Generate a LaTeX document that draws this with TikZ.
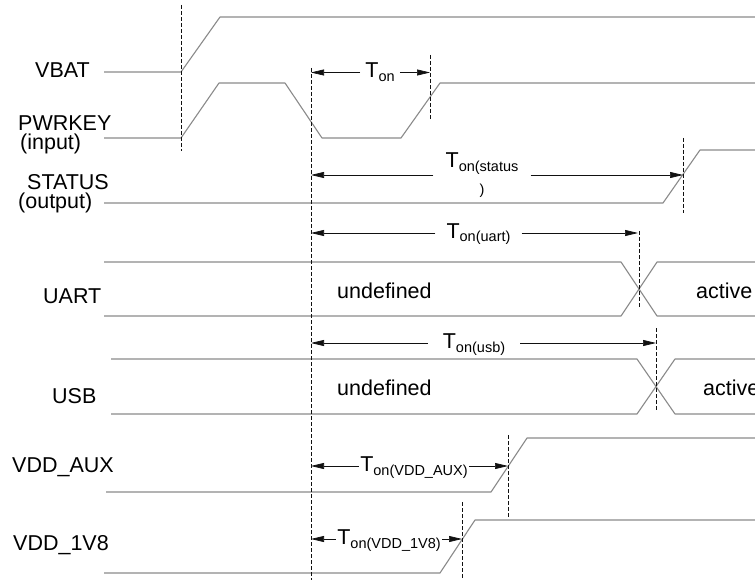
\documentclass[tikz,border=0pt]{standalone}
\usepackage{fontspec}
\setmainfont{Liberation Sans}
\usetikzlibrary{arrows.meta}
\definecolor{wire}{HTML}{8A8A8A}
\definecolor{ink}{HTML}{111111}
\newcommand\subfont{\fontsize{14.5}{16}\selectfont}
\newcommand\Ton[1]{T\raisebox{-3.5pt}{\subfont #1}}
\tikzset{
  wave/.style={draw=wire,line width=1.1pt,line join=round},
  guide/.style={draw=ink,dash pattern=on 4pt off 2pt,line width=0.8pt},
  arr/.style={-{Triangle[length=13pt,width=6pt]},line width=0.7pt,color=ink},
  sig/.style={font=\fontsize{21.5}{25}\selectfont,inner sep=0pt,anchor=base west},
  tlbl/.style={font=\fontsize{21.5}{25}\selectfont,inner ysep=0pt,anchor=base}}

\begin{document}
\begin{tikzpicture}[x=1pt,y=-1pt]
\useasboundingbox (0,0) rectangle (755,580);
% signal names
\node[sig] (vbat) at (35,78) {VBAT};
\node[sig] (pwrkey) at (18,131) {PWRKEY};
\node[sig] (pwrkey-io) at (20,150) {(input)};
\node[sig] (status) at (27,190) {STATUS};
\node[sig] (status-io) at (18,209) {(output)};
\node[sig] (uart) at (43,303) {UART};
\node[sig] (usb) at (52,403) {USB};
\node[sig] (vddaux) at (12,472) {VDD\_AUX};
\node[sig] (vdd1v8) at (13,550) {VDD\_1V8};
% waveforms
\draw[wave] (104,72) -- (181,72) -- (220,17) -- (755,17);
\draw[wave] (104,138) -- (181,138) -- (219,83) -- (285,83) -- (322,138) -- (401,138) -- (440,83) -- (755,83);
\draw[wave] (104,203) -- (663,203) -- (700,150) -- (755,150);
\draw[wave] (104,262) -- (621,262) -- (657,316) -- (755,316);
\draw[wave] (104,316) -- (621,316) -- (657,262) -- (755,262);
\draw[wave] (111,359) -- (637,359) -- (675,414) -- (755,414);
\draw[wave] (111,414) -- (637,414) -- (675,359) -- (755,359);
\draw[wave] (106,492) -- (491,492) -- (527,438) -- (755,438);
\draw[wave] (104,573) -- (440,573) -- (475,520) -- (755,520);
% bus states
\node[sig] (uart-x) at (337,298) {undefined};
\node[sig] (uart-ok) at (696,298) {active};
\node[sig] (usb-x) at (337,395) {undefined};
\node[sig] (usb-ok) at (703,395) {active};
% guides
\draw[guide] (181,5) -- (181,151);
\draw[guide] (311,68) -- (311,580);
\draw[guide] (430,55) -- (430,120);
\draw[guide] (683,138) -- (683,213);
\draw[guide] (639,231) -- (639,307);
\draw[guide] (656,328) -- (656,410);
\draw[guide] (508,435) -- (508,517);
\draw[guide] (462,502) -- (462,580);
% timing arrows
\coordinate (ton-l) at (311,72.5); \coordinate (ton-r) at (430,72.5);
\coordinate (tst-l) at (311,175); \coordinate (tst-r) at (683,175);
\coordinate (tua-l) at (311,233); \coordinate (tua-r) at (638,233);
\coordinate (tus-l) at (311,343); \coordinate (tus-r) at (656,343);
\coordinate (tax-l) at (311,466); \coordinate (tax-r) at (508,466);
\coordinate (t18-l) at (311,539); \coordinate (t18-r) at (462,539);
\node[tlbl,inner xsep=5pt] (ton) at (380,78) {\Ton{on}};
\node[tlbl,inner xsep=12pt,align=center] (tst) at (482,195) {\Ton{on(status}\\[2pt]{\subfont )}};
\node[tlbl,inner xsep=11pt] (tua) at (478.5,238.5) {\Ton{on(uart)}};
\node[tlbl,inner xsep=15pt] (tus) at (474,348.5) {\Ton{on(usb)}};
\node[tlbl,inner xsep=1.5pt] (tax) at (414,471.5) {\Ton{on(VDD\_AUX)}};
\node[tlbl,inner xsep=1.5pt] (t18) at (389,544.5) {\Ton{on(VDD\_1V8)}};
\draw[arr] (ton.west |- ton-l) -- (ton-l); \draw[arr] (ton.east |- ton-r) -- (ton-r);
\draw[arr] (tst.west |- tst-l) -- (tst-l); \draw[arr] (tst.east |- tst-r) -- (tst-r);
\draw[arr] (tua.west |- tua-l) -- (tua-l); \draw[arr] (tua.east |- tua-r) -- (tua-r);
\draw[arr] (tus.west |- tus-l) -- (tus-l); \draw[arr] (tus.east |- tus-r) -- (tus-r);
\draw[arr] (tax.west |- tax-l) -- (tax-l); \draw[arr] (tax.east |- tax-r) -- (tax-r);
\draw[arr] (t18.west |- t18-l) -- (t18-l); \draw[arr] (t18.east |- t18-r) -- (t18-r);
\end{tikzpicture}
\end{document}
